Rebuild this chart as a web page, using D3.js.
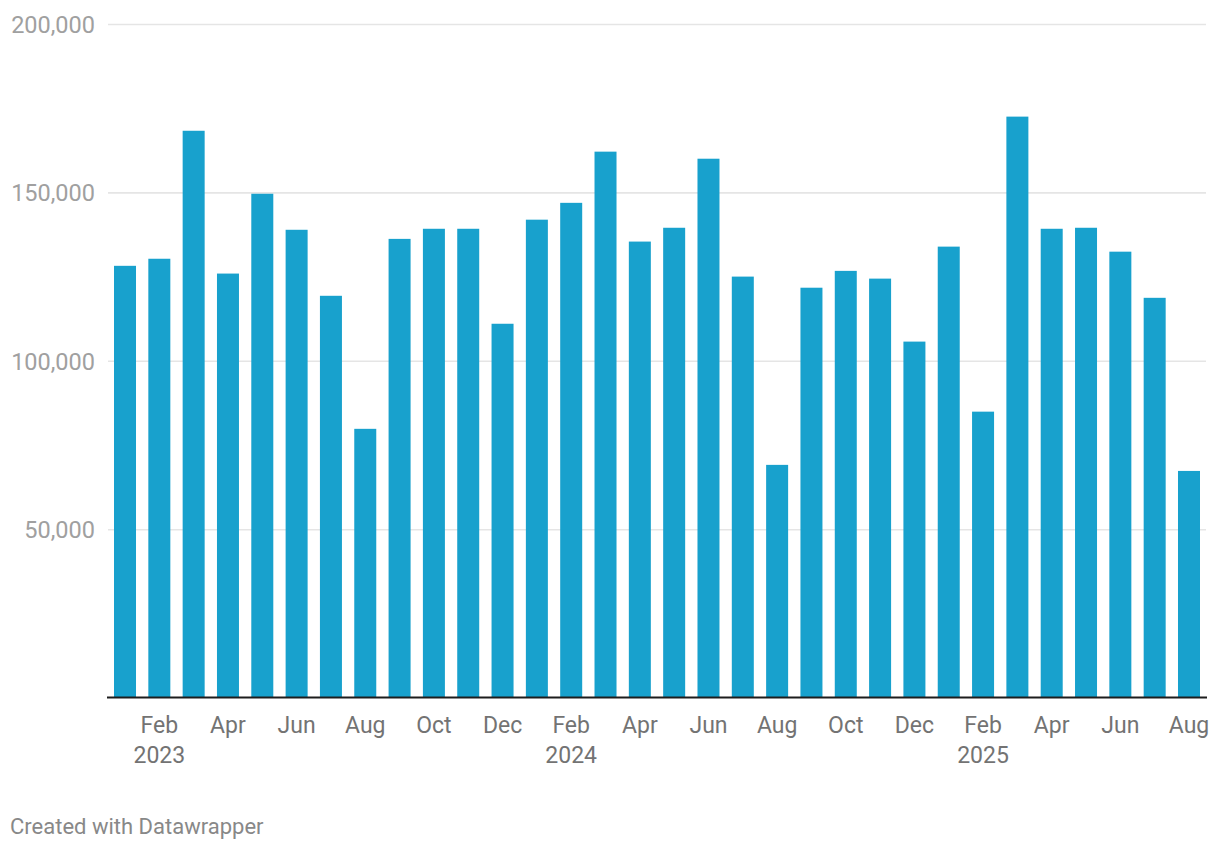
<!DOCTYPE html>
<html>
<head>
<meta charset="utf-8">
<script src="https://cdn.jsdelivr.net/npm/d3@7"></script>
<style>
  html, body { margin: 0; padding: 0; background: #fff; }
  svg { display: block; font-family: Roboto, "Noto Sans", sans-serif; }
</style>
</head>
<body>
<svg id="chart" width="1220" height="850"></svg>
<script>
// ---- data ----
const months = ["Jan","Feb","Mar","Apr","May","Jun","Jul","Aug","Sep","Oct","Nov","Dec",
                "Jan","Feb","Mar","Apr","May","Jun","Jul","Aug","Sep","Oct","Nov","Dec",
                "Jan","Feb","Mar","Apr","May","Jun","Jul","Aug"];
const years  = [2023,2023,2023,2023,2023,2023,2023,2023,2023,2023,2023,2023,
                2024,2024,2024,2024,2024,2024,2024,2024,2024,2024,2024,2024,
                2025,2025,2025,2025,2025,2025,2025,2025];
const values = [128200,130300,168300,125900,149600,138900,119300,79800,136200,139200,139200,111000,
                141900,146900,162100,135400,139500,160000,125000,69100,121700,126700,124400,105700,
                133900,84900,172500,139200,139500,132400,118700,67300];
const yTicks = [50000,100000,150000,200000];
const yearLabelMonth = "Feb";

// ---- layout ----
const svg = d3.select("#chart");
const idx = d3.range(values.length);
const x = d3.scaleBand().domain(idx).range([108, 1206]).paddingInner(0.359).paddingOuter(0.175);
const y = d3.scaleLinear().domain([0, 200000]).range([697.6, 24]);

// gridlines
const grid = svg.append("g").attr("transform", "translate(108,0)")
  .call(d3.axisRight(y).tickValues(yTicks).tickSize(1098).tickFormat(""));
grid.select(".domain").remove();
grid.selectAll(".tick line").attr("stroke", "#e5e5e5").attr("stroke-width", 1.6);

// y labels
const yAxis = svg.append("g").attr("transform", "translate(95,0)")
  .call(d3.axisLeft(y).tickValues(yTicks).tickSize(0).tickPadding(0).tickFormat(d3.format(",")));
yAxis.select(".domain").remove();
yAxis.selectAll(".tick text")
  .attr("fill", "#a0a0a0").attr("font-size", 23.5)
  .attr("font-family", "Roboto, sans-serif")
  .attr("dy", null).attr("y", 8.4);

// bars
svg.append("g").selectAll("rect").data(idx).join("rect")
  .attr("x", i => x(i))
  .attr("width", x.bandwidth())
  .attr("y", i => y(values[i]))
  .attr("height", i => y(0) - y(values[i]))
  .attr("fill", "#18a1cd");

// baseline
svg.append("line")
  .attr("x1", 107).attr("x2", 1207)
  .attr("y1", y(0)).attr("y2", y(0))
  .attr("stroke", "#1d1d1d").attr("stroke-width", 2);

// x axis
const xTickIdx = idx.filter(i => i % 2 === 1);
const xAxis = svg.append("g").attr("transform", `translate(0,${y(0)})`)
  .call(d3.axisBottom(x).tickValues(xTickIdx).tickSize(0).tickPadding(0).tickFormat(i => months[i]));
xAxis.select(".domain").remove();
xAxis.selectAll(".tick text")
  .attr("fill", "#737373").attr("font-size", 23)
  .attr("font-family", "Roboto, sans-serif")
  .attr("dy", null).attr("y", 35);

// year labels
svg.append("g").selectAll("text")
  .data(idx.filter(i => months[i] === yearLabelMonth))
  .join("text")
  .attr("x", i => x(i) + x.bandwidth() / 2)
  .attr("y", y(0) + 65)
  .attr("text-anchor", "middle")
  .attr("fill", "#737373").attr("font-size", 23)
  .text(i => years[i]);

// credit
svg.append("text")
  .attr("x", 10).attr("y", 834)
  .attr("fill", "#888").attr("font-size", 22)
  .text("Created with Datawrapper");
</script>
</body>
</html>
